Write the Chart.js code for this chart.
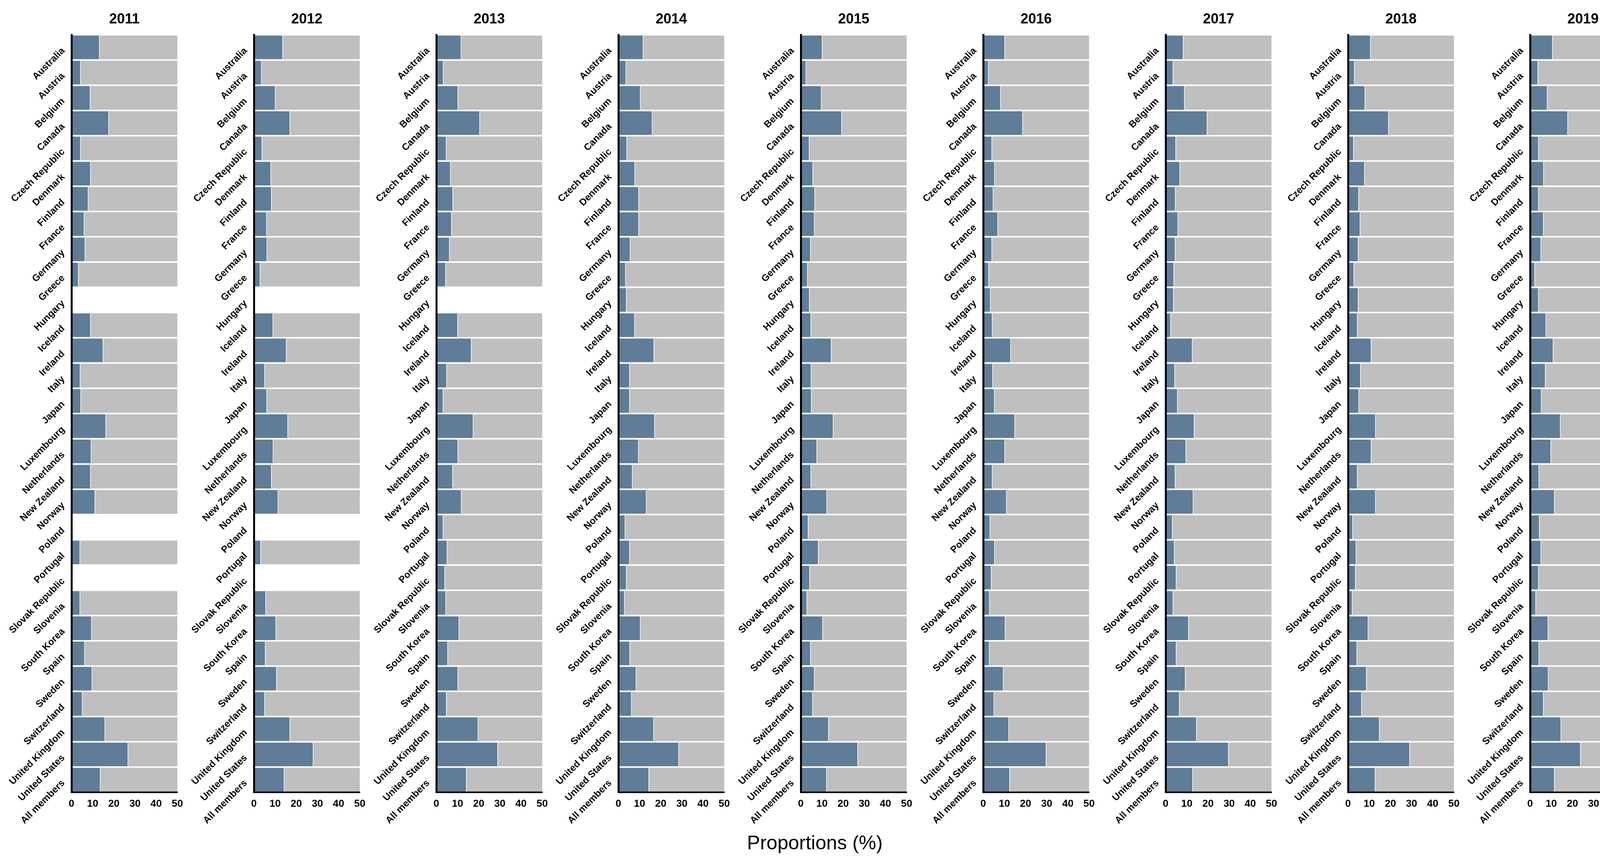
<!DOCTYPE html>
<html>
<head>
<meta charset="utf-8">
<script src="https://cdn.jsdelivr.net/npm/chart.js@4.4.0/dist/chart.umd.min.js"></script>
<style>
  body { margin: 0; background: #fff; }
  #wrap { position: relative; width: 4220px; height: 2210px; background: #fff; overflow: hidden; }
  #wrap canvas { position: absolute; top: 0; }
  #xtitle { position: absolute; left: 1786px; top: 2128px; width: 600px; text-align: center;
            font: 50px "Liberation Sans", Arial, Helvetica, sans-serif; line-height: 60px; color: #000; }
</style>
</head>
<body>
<div id="wrap">
  <div id="xtitle">Proportions (%)</div>
</div>
<script>
var categories = ["Australia", "Austria", "Belgium", "Canada", "Czech Republic", "Denmark", "Finland",
  "France", "Germany", "Greece", "Hungary", "Iceland", "Ireland", "Italy", "Japan", "Luxembourg",
  "Netherlands", "New Zealand", "Norway", "Poland", "Portugal", "Slovak Republic", "Slovenia",
  "South Korea", "Spain", "Sweden", "Switzerland", "United Kingdom", "United States", "All members"];

var years = ["2011", "2012", "2013", "2014", "2015", "2016", "2017", "2018", "2019"];

var xTicks = [0, 10, 20, 30, 40, 50];

// proportions (%), null = no data
var v2011 = [13.3, 4.4, 8.9, 17.7, 4.4, 9.1, 8.0, 6.1, 6.5, 3.4, null, 9.1, 15.0, 4.2, 4.5, 16.3, 9.4, 9.1, 11.2, null, 4.1, null, 4.1, 9.6, 6.3, 9.8, 5.2, 15.9, 26.8, 13.7];
var v2012 = [13.7, 3.7, 10.2, 17.1, 3.9, 8.1, 8.4, 6.1, 6.3, 3.0, null, 9.1, 15.4, 5.2, 6.2, 16.1, 9.2, 8.4, 11.5, null, 3.3, null, 5.7, 10.5, 5.5, 10.8, 5.2, 17.1, 28.1, 14.4];
var v2013 = [11.8, 3.4, 10.3, 20.6, 4.8, 6.8, 7.9, 7.3, 6.3, 4.5, null, 10.2, 16.6, 5.0, 3.3, 17.5, 10.3, 7.8, 11.9, 3.3, 5.2, 4.1, 4.6, 10.8, 5.5, 10.3, 4.9, 19.8, 29.1, 14.3];
var v2014 = [11.8, 3.7, 10.5, 16.1, 4.1, 7.9, 9.7, 9.7, 5.7, 3.5, 3.9, 7.8, 16.9, 5.4, 5.4, 17.2, 9.6, 6.7, 13.3, 3.3, 5.4, 3.9, 3.0, 10.5, 5.5, 8.5, 6.3, 16.8, 28.6, 14.5];
var v2015 = [10.2, 2.6, 9.8, 19.4, 4.1, 5.8, 6.7, 6.5, 4.7, 3.3, 4.2, 4.9, 14.5, 5.0, 5.1, 15.4, 7.7, 4.9, 12.4, 3.6, 8.4, 4.3, 3.0, 10.4, 4.7, 6.5, 5.7, 13.2, 27.0, 12.3];
var v2016 = [10.3, 2.6, 8.3, 18.7, 4.2, 5.5, 4.8, 7.0, 4.2, 2.7, 3.5, 4.4, 13.1, 4.6, 5.4, 15.0, 10.3, 4.4, 11.1, 3.3, 5.5, 3.9, 3.1, 10.5, 3.0, 9.6, 5.2, 12.2, 29.8, 12.6];
var v2017 = [8.4, 3.6, 9.0, 19.7, 4.9, 6.8, 4.7, 5.9, 4.6, 4.0, 3.8, 2.5, 12.7, 4.4, 5.7, 13.6, 9.7, 4.6, 13.1, 3.3, 4.2, 5.1, 3.6, 10.9, 5.1, 9.4, 6.6, 14.7, 29.8, 12.9];
var v2018 = [10.7, 3.1, 8.1, 19.2, 2.7, 7.9, 5.1, 5.8, 4.9, 2.9, 4.9, 4.5, 11.0, 6.0, 5.2, 13.1, 11.0, 4.5, 13.1, 2.3, 3.9, 3.6, 2.1, 9.6, 4.3, 8.8, 6.5, 14.9, 29.2, 12.9];
var v2019 = [10.7, 3.8, 8.2, 17.9, 4.1, 6.5, 4.1, 6.4, 5.2, 2.3, 4.1, 7.6, 11.0, 7.3, 5.4, 14.4, 9.9, 4.3, 11.6, 4.5, 5.2, 4.1, 2.8, 8.6, 4.3, 8.7, 6.4, 14.7, 23.9, 11.6];

var series = [v2011, v2012, v2013, v2014, v2015, v2016, v2017, v2018, v2019];

var FONT = '"Liberation Sans", Arial, Helvetica, sans-serif';
var BLUE = '#5f7c98';
var GREY = '#bfbfbf';

// year title + rotated country names
var panelLabels = {
  id: 'panelLabels',
  afterDraw: function (chart, args, opts) {
    var ctx = chart.ctx;
    var area = chart.chartArea;
    var yScale = chart.scales.y;
    ctx.save();
    ctx.fillStyle = '#000';
    ctx.font = 'bold 36px ' + FONT;
    ctx.textAlign = 'center';
    ctx.textBaseline = 'middle';
    ctx.fillText(opts.year, (area.left + area.right) / 2, 50);

    ctx.font = 'bold 24.5px ' + FONT;
    ctx.textAlign = 'right';
    categories.forEach(function (name, i) {
      var y = yScale.getPixelForValue(i);
      ctx.save();
      ctx.translate(area.left - 21, y + 5);
      ctx.rotate(-Math.PI / 4);
      ctx.fillText(name, 0, 0);
      ctx.restore();
    });
    ctx.restore();
  }
};

var wrap = document.getElementById('wrap');

years.forEach(function (year, k) {
  var vals = series[k];
  // remainder of 100 %, only shown up to the axis end
  var rest = vals.map(function (v) { return v === null ? null : 100 - v; });

  var canvas = document.createElement('canvas');
  canvas.width = 484;
  canvas.height = 2210;
  canvas.style.left = Math.round(466.8 * k) + 'px';
  wrap.appendChild(canvas);

  new Chart(canvas.getContext('2d'), {
    type: 'bar',
    data: {
      labels: categories,
      datasets: [
        {
          data: vals,
          backgroundColor: BLUE,
          borderColor: '#fff',
          borderWidth: { top: 0, bottom: 0, left: 0, right: 1.5 },
          barPercentage: 0.94,
          categoryPercentage: 1
        },
        {
          data: rest,
          backgroundColor: GREY,
          borderWidth: 0,
          barPercentage: 0.94,
          categoryPercentage: 1
        }
      ]
    },
    options: {
      indexAxis: 'y',
      responsive: false,
      animation: false,
      devicePixelRatio: 1,
      layout: { padding: { top: 89, right: 30, left: 0, bottom: 0 } },
      plugins: {
        legend: { display: false },
        tooltip: { enabled: false },
        panelLabels: { year: year }
      },
      scales: {
        x: {
          stacked: true,
          min: 0,
          max: 50,
          afterBuildTicks: function (scale) {
            scale.ticks = xTicks.map(function (t) { return { value: t }; });
          },
          afterFit: function (scale) { scale.height = 181; },
          grid: { display: false, drawTicks: false },
          border: { display: true, color: '#000', width: 4, z: 1 },
          ticks: {
            color: '#000',
            padding: 14,
            maxRotation: 0,
            font: { family: FONT, size: 26, weight: 'bold' }
          }
        },
        y: {
          stacked: true,
          afterFit: function (scale) { scale.width = 183; },
          grid: { display: false, drawTicks: false },
          border: { display: true, color: '#000', width: 5, z: 1 },
          ticks: { display: false }
        }
      }
    },
    plugins: [panelLabels]
  });
});
</script>
</body>
</html>
